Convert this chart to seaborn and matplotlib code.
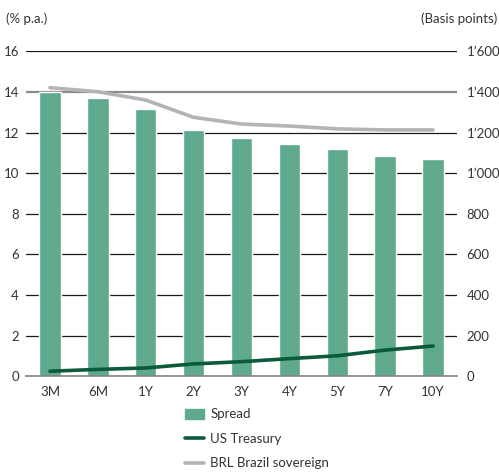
import matplotlib
matplotlib.use("Agg")
import matplotlib.pyplot as plt
import matplotlib.ticker as mticker
from matplotlib.patches import Patch
from matplotlib.lines import Line2D
import seaborn as sns
import pandas as pd

tenors = ["3M", "6M", "1Y", "2Y", "3Y", "4Y", "5Y", "7Y", "10Y"]
spread_bp = [1400, 1369, 1315, 1214, 1172, 1144, 1118, 1085, 1068]
us_treasury = [0.25, 0.34, 0.41, 0.61, 0.72, 0.87, 1.01, 1.29, 1.49]
brl_sovereign = [14.21, 14.01, 13.60, 12.75, 12.42, 12.32, 12.18, 12.13, 12.13]

left_ticks = [0, 2, 4, 6, 8, 10, 12, 14, 16]
right_ticks = [0, 200, 400, 600, 800, 1000, 1200, 1400, 1600]

BAR_C = "#5faa8c"
US_C = "#0b5a3a"
BRL_C = "#b4b4b4"
TXT_C = "#333333"
FS = 9.5

sns.set_style("white")
plt.rcParams["font.family"] = ["Lato", "DejaVu Sans"]

fig = plt.figure(figsize=(4.99, 4.73), dpi=100)
ax = fig.add_axes([26/499, 1-376.3/473, (457-26)/499, (376.3-51.3)/473])

df = pd.DataFrame({"tenor": tenors, "spread": spread_bp,
                   "us": us_treasury, "brl": brl_sovereign})

sns.barplot(data=df, x="tenor", y="spread", color=BAR_C, width=0.45,
            saturation=1, ax=ax, zorder=2)
axl = ax.twinx()

ax.set_ylim(0, 1600)
ax.set_xlim(-0.5, 8.5)
ax.set_yticks(right_ticks)
ax.yaxis.set_major_formatter(mticker.FuncFormatter(
    lambda v, p: f"{int(v):,}".replace(",", "\u2019")))
for t in right_ticks[1:]:
    if t == 1400:
        ax.axhline(t, color="#8a8a8a", lw=1.6, zorder=1)
    else:
        ax.axhline(t, color="#1a1a1a", lw=0.9, zorder=1)
ax.set_xlabel("")
ax.set_ylabel("")

for s in ["top", "left", "right"]:
    ax.spines[s].set_visible(False)
ax.spines["bottom"].set_color("#808080")
ax.spines["bottom"].set_linewidth(1.2)
ax.spines["bottom"].set_zorder(3)

ax.set_xticks([i - 0.5 for i in range(10)], minor=True)
ax.tick_params(axis="x", which="minor", length=4, width=1.2, color="#808080",
               direction="out")
ax.tick_params(axis="x", which="major", length=0, pad=7, labelsize=FS,
               colors=TXT_C)

sns.lineplot(data=df, x="tenor", y="brl", color=BRL_C, lw=2.6, ax=axl)
sns.lineplot(data=df, x="tenor", y="us", color=US_C, lw=2.6, ax=axl)
axl.set_ylim(0, 16)
axl.set_xlim(-0.5, 8.5)
axl.set_yticks(left_ticks)
axl.set_ylabel("")
for s in axl.spines.values():
    s.set_visible(False)

# put axes on the proper sides
ax.yaxis.tick_right()
ax.yaxis.set_label_position("right")
axl.yaxis.tick_left()
ax.tick_params(axis="y", which="both", left=False, labelleft=False,
               right=False, labelright=True, length=0, pad=7,
               labelsize=FS, colors=TXT_C)
axl.tick_params(axis="y", which="both", right=False, labelright=False,
                left=False, labelleft=True, length=0, pad=5,
                labelsize=FS, colors=TXT_C)

fig.text(6/499, 1-19/473, "(% p.a.)", fontsize=9.5, color=TXT_C,
         ha="left", va="center")
fig.text(497/499, 1-19/473, "(Basis points)", fontsize=9.5, color=TXT_C,
         ha="right", va="center")

handles = [Patch(color=BAR_C),
           Line2D([], [], color=US_C, lw=2.6),
           Line2D([], [], color=BRL_C, lw=2.6)]
labels = ["Spread", "US Treasury", "BRL Brazil sovereign"]
fig.legend(handles, labels, loc="upper left",
           bbox_to_anchor=(180/499, 1-403/473), frameon=False,
           fontsize=FS, labelcolor=TXT_C, handlelength=1.4, handleheight=0.8,
           labelspacing=0.95, handletextpad=0.5, borderaxespad=0)

fig.savefig("out.png", dpi=100)
